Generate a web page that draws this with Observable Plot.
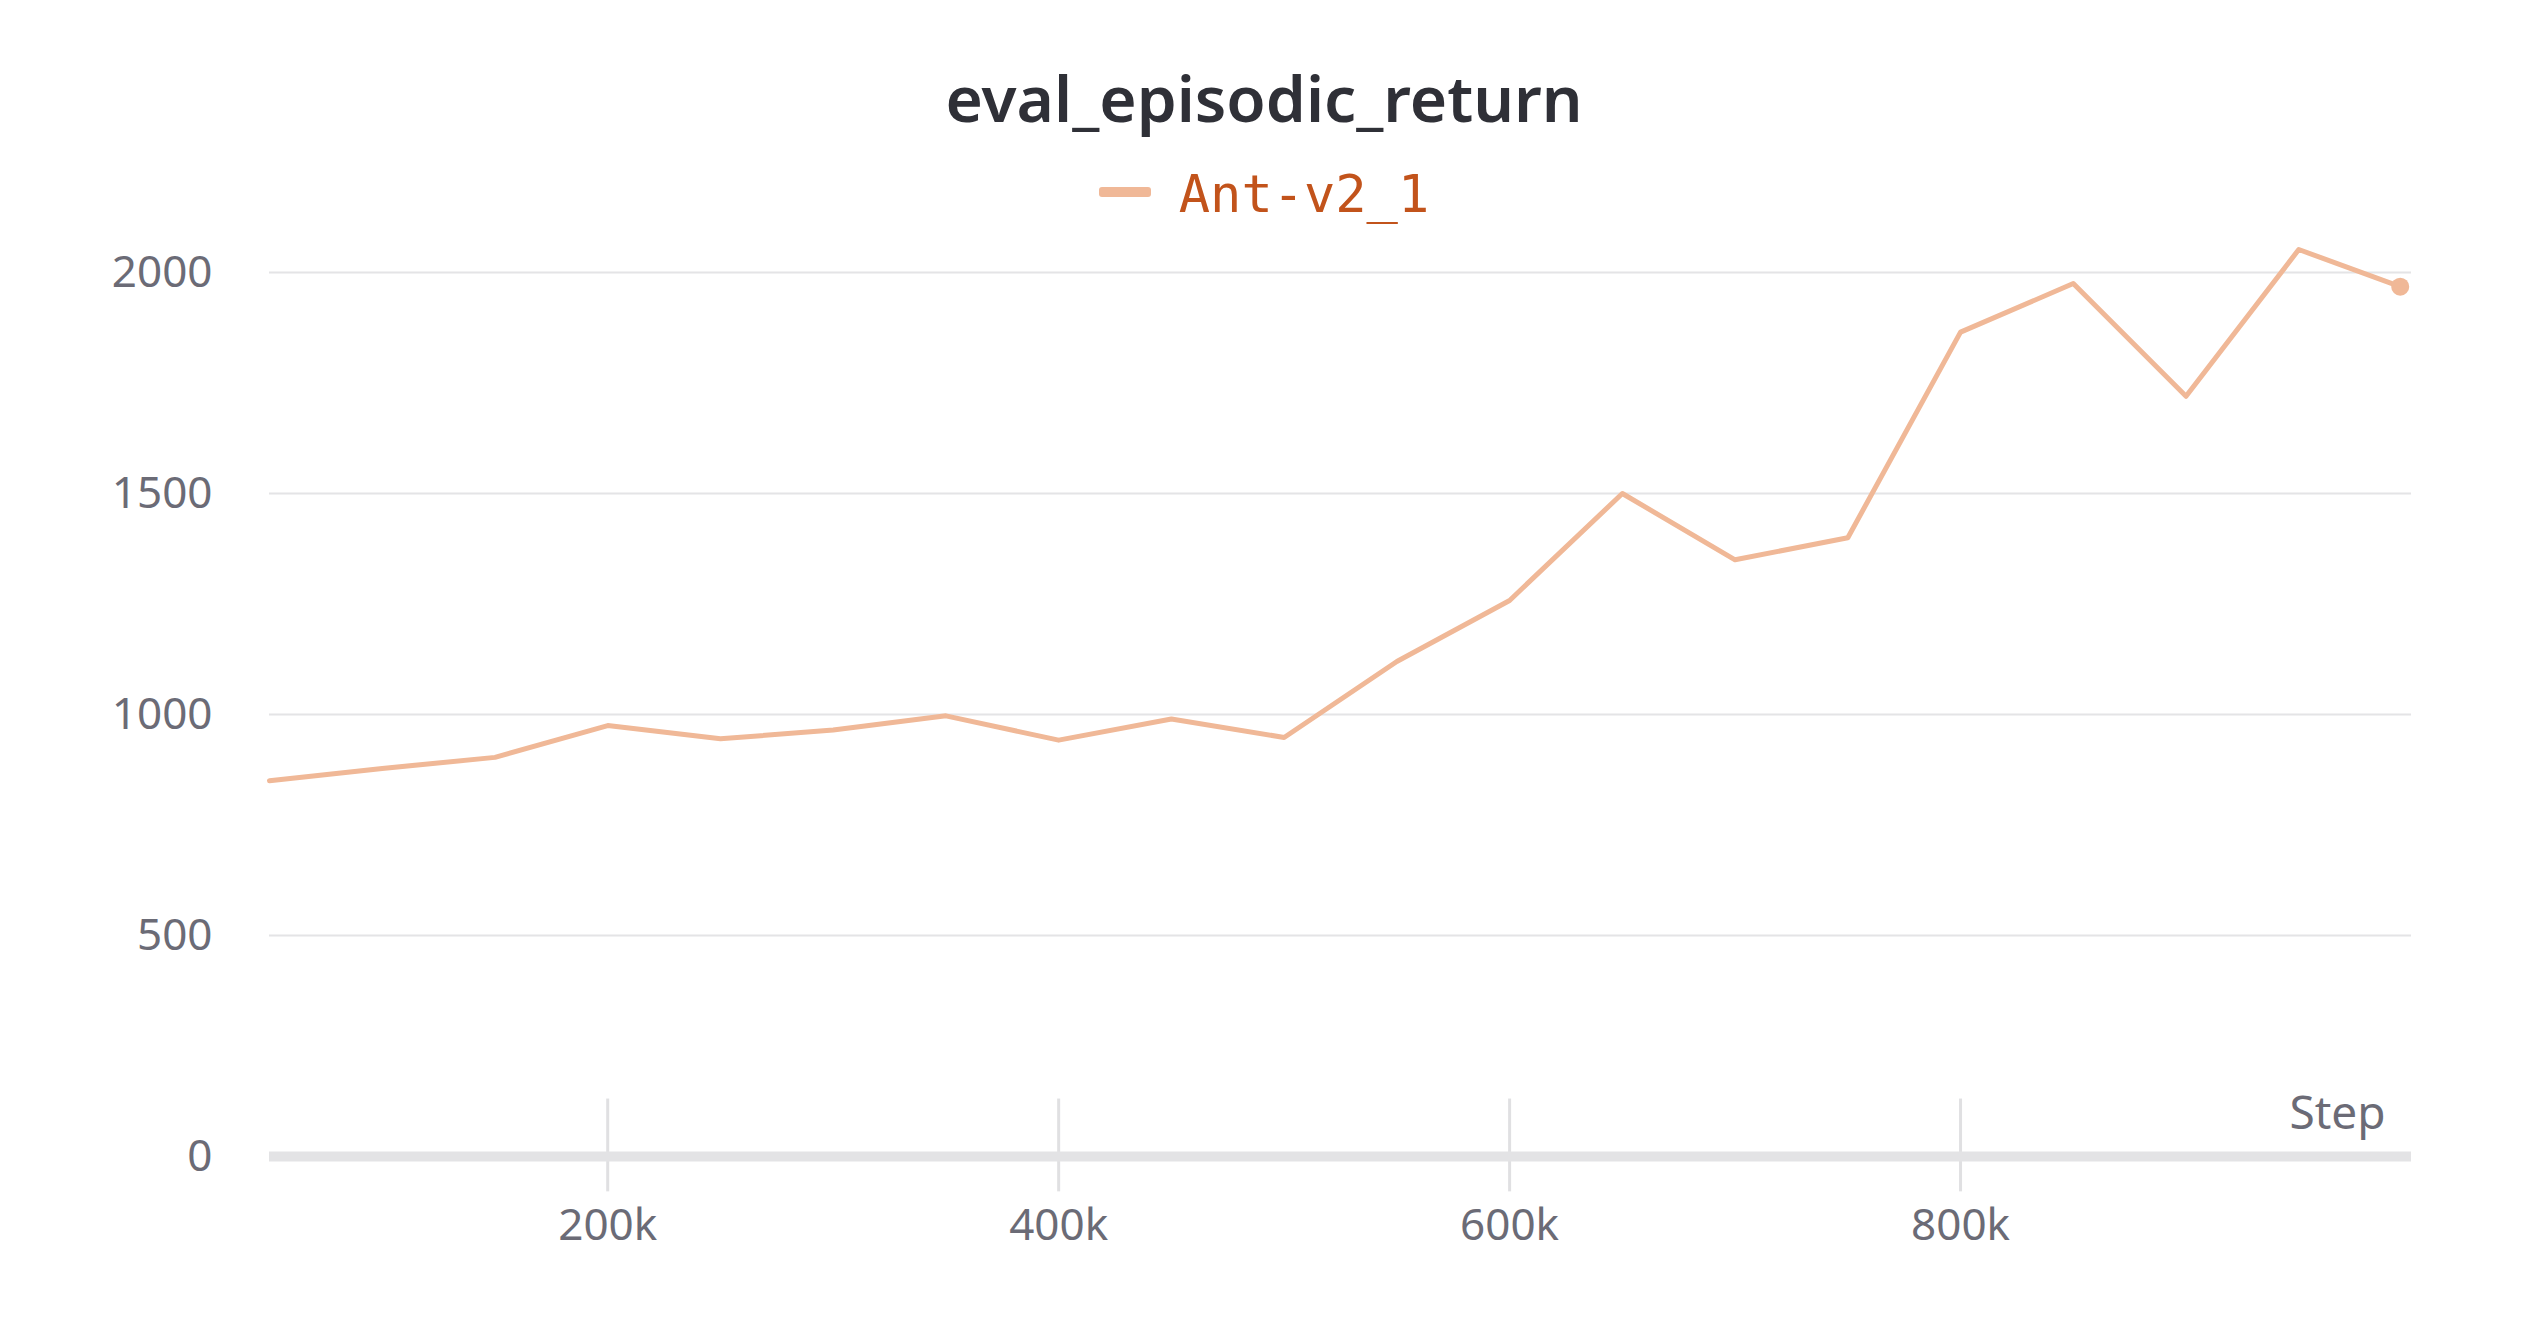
<!DOCTYPE html>
<html><head><meta charset="utf-8">
<script src="https://cdn.jsdelivr.net/npm/d3@7"></script>
<script src="https://cdn.jsdelivr.net/npm/@observablehq/plot@0.6"></script>
<style>
body{margin:0;background:#fff;font-family:"Noto Sans",sans-serif}
#head{height:230px;text-align:center;position:relative}
#title{position:absolute;top:66px;width:100%;font-size:64px;font-weight:600;color:#2f3037;line-height:1}
#legend{position:absolute;top:168px;width:100%;font-family:"DejaVu Sans Mono",monospace;font-size:52px;color:#c2531b;line-height:1}
#legend span.sw{display:inline-block;width:52px;height:10px;background:#f0b897;border-radius:3px;vertical-align:middle;margin-right:28px;position:relative;top:-6px}
</style></head>
<body>
<div id="head"><div id="title">eval_episodic_return</div><div id="legend"><span class="sw"></span>Ant-v2_1</div></div>
<div id="chart"></div>
<script>
const steps = [50000,100000,150000,200000,250000,300000,350000,400000,450000,500000,550000,600000,650000,700000,750000,800000,850000,900000,950000,995000]
const returns = [850,878,903,975,945,965,997,942,990,948,1120,1258,1500,1350,1400,1865,1975,1720,2052,1968]
const xTicks = [200000,400000,600000,800000]
const yTicks = [0,500,1000,1500,2000]
const data = steps.map((s,i)=>({step:s, ret:returns[i]}))
const last = data[data.length-1]

const chart = Plot.plot({
  width: 2528, height: 1098,
  marginLeft: 269, marginRight: 117, marginTop: 42, marginBottom: 172,
  style: {fontFamily: '"Noto Sans", sans-serif', fontSize: '44px', color: '#6b6b76', background: '#fff'},
  x: {domain: [50000, 1000000], label: null},
  y: {domain: [0, 2000], label: null},
  marks: [
    Plot.gridY(yTicks.filter(d=>d>0), {stroke: '#e4e4e6', strokeOpacity: 1, strokeWidth: 2}),
    Plot.ruleX(xTicks, {x: d=>d, y1: -80, y2: 130, stroke: '#e0e0e2', strokeWidth: 3}),
    Plot.ruleY([0], {stroke: '#e3e3e5', strokeWidth: 10}),
    Plot.axisX({ticks: xTicks, tickFormat: d => d/1000 + 'k', tickSize: 0, tickPadding: 52, fill: '#6b6b76', label: null}),
    Plot.axisY({ticks: yTicks, tickFormat: d => String(d), tickSize: 0, tickPadding: 57, fill: '#6b6b76', label: null}),
    Plot.text(['Step'], {x: 1000000, y: 0, dy: -42, dx: -26, textAnchor: 'end', fill: '#6b6b76', fontSize: 46}),
    Plot.line(data, {x: 'step', y: 'ret', stroke: '#f0b897', strokeWidth: 5}),
    Plot.dot([last], {x: 'step', y: 'ret', r: 9, fill: '#f0b897'})
  ]
})
d3.select('#chart').append(() => chart)
</script>
</body></html>
